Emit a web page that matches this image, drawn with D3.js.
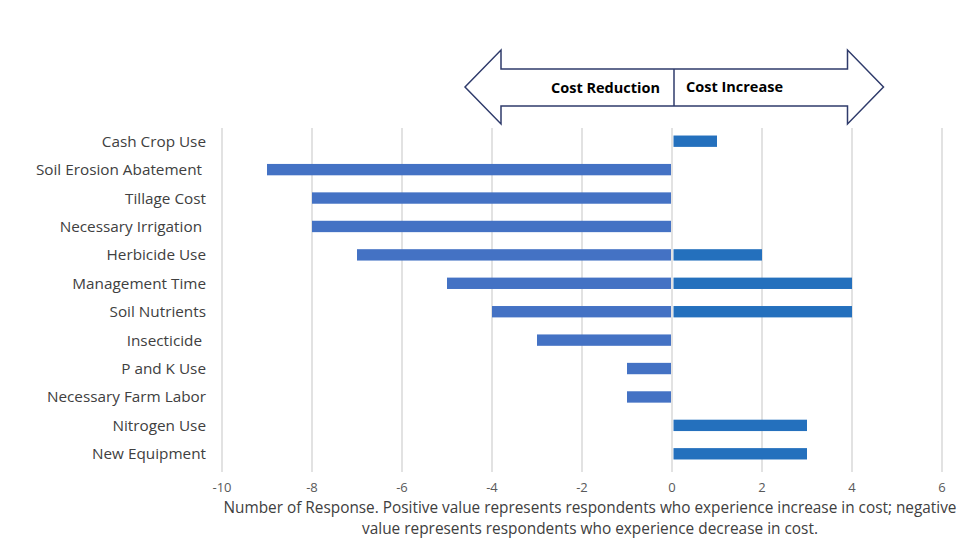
<!DOCTYPE html>
<html>
<head>
<meta charset="utf-8">
<script src="https://cdn.jsdelivr.net/npm/d3@7/dist/d3.min.js"></script>
<style>
  body { margin: 0; background: #fff; }
  text { font-family: "Open Sans", "Noto Sans", sans-serif; }
</style>
</head>
<body>
<div id="chart"></div>
<script>
// categories, top to bottom (trailing spaces kept as in the source chart)
const categories = [
  'Cash Crop Use', 'Soil Erosion Abatement ', 'Tillage Cost', 'Necessary Irrigation ',
  'Herbicide Use', 'Management Time', 'Soil Nutrients', 'Insecticide ',
  'P and K Use', 'Necessary Farm Labor', 'Nitrogen Use', 'New Equipment'
];
// respondents reporting a cost decrease (negative) / increase (positive)
const decrease = [0, -9, -8, -8, -7, -5, -4, -3, -1, -1, 0, 0];
const increase = [1, 0, 0, 0, 2, 4, 4, 0, 0, 0, 3, 3];
const xTicks = [-10, -8, -6, -4, -2, 0, 2, 4, 6];
const titleLines = [
  'Number of Response.  Positive value represents respondents who experience increase in cost; negative',
  'value represents respondents who experience decrease in cost.'
];

const width = 964, height = 558;

const svg = d3.select('#chart')
  .append('svg')
    .attr('width', width)
    .attr('height', height);

const x = d3.scaleLinear().domain([-10, 6]).range([222, 942]);
const y = d3.scaleBand().domain(categories).range([127, 468])
  .paddingInner(0.6).paddingOuter(0.3);

// gridlines
svg.append('g')
  .selectAll('line')
  .data(xTicks)
  .enter()
  .append('line')
    .attr('x1', d => x(d)).attr('x2', d => x(d))
    .attr('y1', 128).attr('y2', 472)
    .attr('stroke', '#d9d9d9')
    .attr('stroke-width', 1.5);

// tick labels
svg.append('g')
  .selectAll('text')
  .data(xTicks)
  .enter()
  .append('text')
    .attr('x', d => x(d))
    .attr('y', 492)
    .attr('text-anchor', 'middle')
    .attr('font-size', 13)
    .attr('fill', '#595959')
    .text(d => d < 0 ? '-' + Math.abs(d) : d);

// category labels
svg.append('g')
  .selectAll('text')
  .data(categories)
  .enter()
  .append('text')
    .attr('x', 206)
    .attr('y', d => y(d) + y.bandwidth() / 2 + 5.5)
    .attr('text-anchor', 'end')
    .attr('font-size', 15.3)
    .attr('fill', '#404040')
    .style('white-space', 'pre')
    .text(d => d);

// bars: decrease
svg.append('g')
  .selectAll('rect')
  .data(categories.map((c, i) => ({ c: c, v: decrease[i] })).filter(d => d.v < 0))
  .enter()
  .append('rect')
    .attr('x', d => x(d.v))
    .attr('y', d => y(d.c))
    .attr('width', d => x(0) - x(d.v) - 1)
    .attr('height', y.bandwidth())
    .attr('fill', '#4472c4');

// bars: increase
svg.append('g')
  .selectAll('rect')
  .data(categories.map((c, i) => ({ c: c, v: increase[i] })).filter(d => d.v > 0))
  .enter()
  .append('rect')
    .attr('x', x(0) + 1.5)
    .attr('y', d => y(d.c))
    .attr('width', d => x(d.v) - x(0) - 1.5)
    .attr('height', y.bandwidth())
    .attr('fill', '#2470bd');

// axis title
svg.append('g')
  .selectAll('text')
  .data(titleLines)
  .enter()
  .append('text')
    .attr('x', 590)
    .attr('y', (d, i) => 513 + i * 21)
    .attr('text-anchor', 'middle')
    .attr('font-size', 15.5)
    .attr('fill', '#404040')
    .attr('textLength', (d, i) => i === 0 ? 733 : 456)
    .attr('lengthAdjust', 'spacingAndGlyphs')
    .text(d => d);

// double-headed arrow annotation
const tipL = x(-4.6), baseL = x(-3.8), baseR = x(3.9), tipR = x(4.7);
const midY = 87, shaftT = 69, shaftB = 106, headT = 50, headB = 124;
svg.append('path')
  .attr('d', [
    'M', tipL, midY,
    'L', baseL, headT, 'L', baseL, shaftT, 'L', baseR, shaftT, 'L', baseR, headT,
    'L', tipR, midY,
    'L', baseR, headB, 'L', baseR, shaftB, 'L', baseL, shaftB, 'L', baseL, headB, 'Z'
  ].join(' '))
  .attr('fill', '#fff')
  .attr('stroke', '#2f3b6b')
  .attr('stroke-width', 1.5)
  .attr('stroke-linejoin', 'miter');

svg.append('line')
  .attr('x1', x(0) + 2).attr('x2', x(0) + 2)
  .attr('y1', shaftT).attr('y2', shaftB)
  .attr('stroke', '#2f3b6b')
  .attr('stroke-width', 1.5);

svg.append('text')
  .attr('x', x(0) - 12)
  .attr('y', 93)
  .attr('text-anchor', 'end')
  .attr('font-size', 14.5)
  .attr('font-weight', 'bold')
  .attr('fill', '#000')
  .text('Cost Reduction');

svg.append('text')
  .attr('x', x(0) + 14)
  .attr('y', 92)
  .attr('font-size', 14.5)
  .attr('font-weight', 'bold')
  .attr('fill', '#000')
  .text('Cost Increase');
</script>
</body>
</html>
